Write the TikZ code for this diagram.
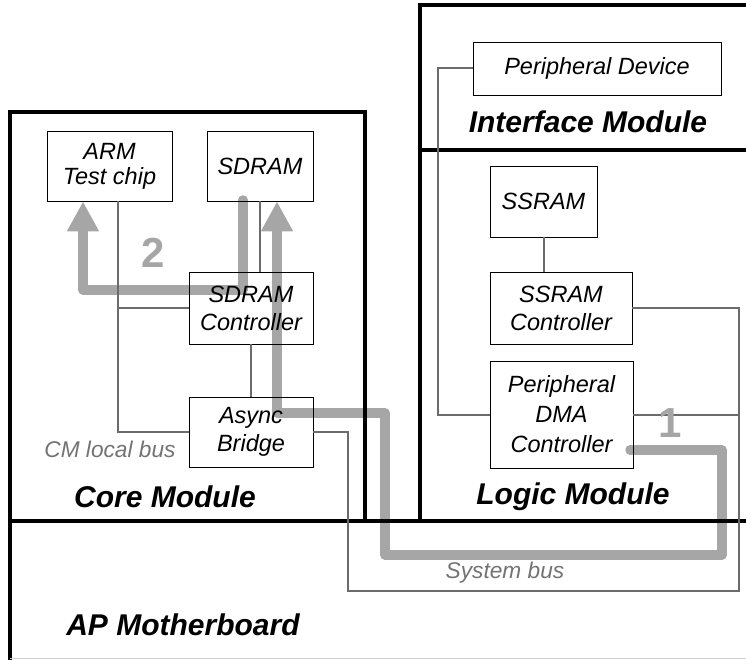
\documentclass[tikz,border=0pt]{standalone}
\usepackage{fontspec}
\setmainfont{Liberation Sans}
\usetikzlibrary{arrows.meta,backgrounds}

\tikzset{
	frame/.style={line width=4.5pt, line cap=rect},
	chip/.style={draw, line width=0.8pt, align=center, font=\fontsize{23.5}{28}\selectfont\itshape},
	wire/.style={line width=2pt, color=black!58},
	flow/.style={line width=9.5pt, color=black!35, line cap=round, line join=round, -{Triangle[length=30pt,width=30pt]}},
	modname/.style={font=\fontsize{30}{32}\selectfont\bfseries\itshape},
	busname/.style={color=black!55, font=\fontsize{22.7}{24}\selectfont\itshape},
	stepnum/.style={color=black!35, font=\fontsize{42}{44}\selectfont\bfseries}
}

\begin{document}
\begin{tikzpicture}[x=1pt, y=-1pt]
			%%%%% START %%%%%
			\useasboundingbox (0, 0) rectangle (746, 660);
			
			% module outlines
			\draw[frame, line join=miter] (10, 660) -- (10, 112) -- (365, 112) -- (365, 521);
			\draw[frame] (10, 521) -- (746, 521);
			\draw[frame, line join=miter] (420, 521) -- (420, 5) -- (746, 5);
			\draw[frame] (420, 150) -- (746, 150);
			\draw[line width=0.6pt, color=black!18] (10, 658) -- (746, 658);
			
			% chips
			\node[chip, minimum width=125, minimum height=70, font=\fontsize{23.5}{25}\selectfont\itshape] (arm) at (109.5, 166) {ARM\\Test chip};
			\node[chip, minimum width=106, minimum height=70] (sdram) at (260, 166) {SDRAM};
			\node[chip, minimum width=124, minimum height=72] (sdramctl) at (251, 308) {SDRAM\\Controller};
			\node[chip, minimum width=124, minimum height=70] (bridge) at (251, 432) {Async\\Bridge};
			\node[chip, minimum width=248, minimum height=53] (periph) at (597, 68.5) {Peripheral Device};
			\node[chip, minimum width=107, minimum height=71] (ssram) at (543.5, 201.5) {SSRAM};
			\node[chip, minimum width=142, minimum height=72] (ssramctl) at (561, 308) {SSRAM\\Controller};
			\node[chip, minimum width=143, minimum height=107, font=\fontsize{23.5}{30}\selectfont\itshape] (pdma) at (561.5, 414.5) {Peripheral\\DMA\\Controller};
			
			% module names
			\node[modname] (cm) at (165, 497) {Core Module};
			\node[modname] (lm) at (573, 497) {Logic Module};
			\node[modname] (im) at (588, 122) {Interface Module};
			\node[modname] (apm) at (183, 625) {AP Motherboard};
			\node[busname] (cmbus) at (110, 449) {CM local bus};
			\node[busname] (sysbus) at (505, 573) {System bus};
			
			% buses
			\coordinate (lbus) at (118, 432);
			\draw[wire] (arm.south -| lbus) -- (lbus) -- (bridge.west);
			\draw[wire] (sdramctl.west) -- (sdramctl.west -| lbus);
			\draw[wire] (sdram.south) -- (sdram.south |- sdramctl.north);
			\draw[wire] (sdramctl.south) -- (bridge.north);
			\draw[wire] (ssram.south) -- (ssram.south |- ssramctl.north);
			
			\coordinate (pbus) at (438, 414.5);
			\draw[wire] (periph.west) -- (periph.west -| pbus) -- (pbus) -- (pdma.west);
			
			\coordinate (sbus) at (739, 591);
			\draw[wire] (bridge.east) -- (348, 432) -- (348, 591) -- (sbus) -- (ssramctl.east -| sbus) -- (ssramctl.east);
			\draw[wire] (pdma.east) -- (pdma.east -| sbus);
			
			% transfers
			\begin{pgfonlayer}{background}
			\draw[flow] (243, 200) -- (243, 290) -- (83, 290) -- (arm.south -| 83, 0);
			\draw[flow] (630, 450) -- (722, 450) -- (722, 555) -- (385, 555) -- (385, 413) -- (277, 413) -- (sdram.south -| 277, 0);
			\end{pgfonlayer}
			\node[stepnum] (two) at (153, 253) {2};
			\node[stepnum] (one) at (670, 423) {1};
			
			%%%%% END %%%%%
\end{tikzpicture}
\end{document}
